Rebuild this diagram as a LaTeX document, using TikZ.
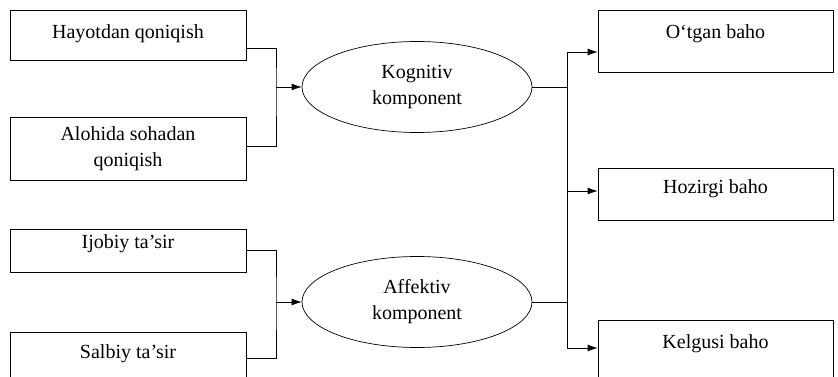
\documentclass[tikz,border=0pt]{standalone}
\usepackage{fontspec}
\setmainfont{Liberation Serif}
\usetikzlibrary{shapes.geometric,arrows.meta}

\begin{document}
\begin{tikzpicture}[
    x=1pt, y=-1pt,
    every node/.style={font=\fontsize{20}{26}\selectfont, inner sep=0pt},
    box/.style={draw, rectangle, line width=0.7pt, minimum width=236pt},
    lifted/.style={text height=14pt, text depth=#1},
    comp/.style={draw, ellipse, line width=0.7pt, align=center,
        minimum width=230pt, minimum height=91pt},
    link/.style={line width=0.7pt},
    arr/.style={link, -{Latex[length=10pt,width=7pt]}}
]
\useasboundingbox (0,0) rectangle (838,377);
% inputs
\node[box, lifted=7pt, minimum height=50pt] (hayot) at (128,35) {Hayotdan qoniqish};
\node[box, align=center, minimum height=63pt] (alohida) at (128,148.5) {Alohida sohadan\\qoniqish};
\node[box, lifted=18pt, minimum height=43pt] (ijobiy) at (128,250.5) {Ijobiy ta’sir};
\node[box, lifted=21pt, minimum height=60pt] (salbiy) at (128,362) {Salbiy ta’sir};
% components
\node[comp] (kogn) at (417,87) {Kognitiv\\komponent};
\node[comp] (affe) at (417,302) {Affektiv\\komponent};
% outputs
\node[box, lifted=19pt, minimum height=62pt, minimum width=235pt] (otgan) at (715.5,41) {O‘tgan baho};
\node[box, lifted=15pt, minimum height=52pt, minimum width=235pt] (hozirgi) at (715.5,194) {Hozirgi baho};
\node[box, lifted=17pt, minimum height=60pt, minimum width=235pt] (kelgusi) at (715.5,350) {Kelgusi baho};
% junctions
\coordinate (jk) at (276,87);
\coordinate (ja) at (276,302);
\coordinate (kr) at (567,87);
\coordinate (ar) at (567,302);
% connectors
\draw[link] ([yshift=-13pt]hayot.east) -| (jk) |- ([yshift=2pt]alohida.east);
\draw[arr] (jk) -- (kogn.west);
\draw[link] (ijobiy.east) -| (ja) |- ([yshift=4pt]salbiy.east);
\draw[arr] (ja) -- (affe.west);
\draw[link] (kogn.east) -- (kr);
\draw[link] (affe.east) -- (ar);
\draw[link] (kr) -- (ar);
\draw[arr] (kr) |- ([yshift=-11pt]otgan.west);
\draw[arr] (kr) |- ([yshift=3pt]hozirgi.west);
\draw[arr] (ar) |- ([yshift=2pt]kelgusi.west);
\end{tikzpicture}
\end{document}
